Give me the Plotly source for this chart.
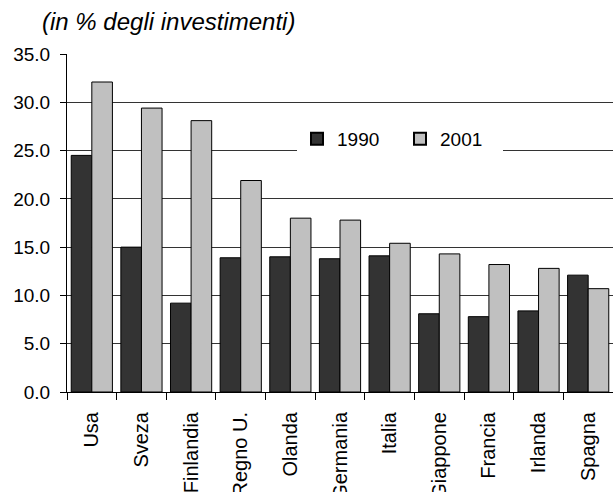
import plotly.graph_objects as go

categories = ["Usa", "Sveza", "Finlandia", "Regno U.", "Olanda", "Germania",
              "Italia", "Giappone", "Francia", "Irlanda", "Spagna"]
values_1990 = [24.5, 15.0, 9.2, 13.9, 14.0, 13.8, 14.1, 8.1, 7.8, 8.4, 12.1]
values_2001 = [32.1, 29.4, 28.1, 21.9, 18.0, 17.8, 15.4, 14.3, 13.2, 12.8, 10.7]
y_ticks = [0, 5, 10, 15, 20, 25, 30, 35]

FONT = "Liberation Sans, Arial, sans-serif"

fig = go.Figure()
fig.add_trace(go.Bar(name="1990", x=categories, y=values_1990,
                     marker=dict(color="#333333", line=dict(color="#000000", width=1))))
fig.add_trace(go.Bar(name="2001", x=categories, y=values_2001,
                     marker=dict(color="#c0c0c0", line=dict(color="#000000", width=1))))

W, H = 613, 492
L, R, T, B = 67, 0, 54, 100
pw, ph = W - L - R, H - T - B

def px_to_paper_x(px):
    return (px - L) / pw

def px_to_paper_y(py):
    return (H - B - py) / ph

fig.update_layout(
    width=W, height=H,
    margin=dict(l=L, r=R, t=T, b=B, pad=0),
    paper_bgcolor="white", plot_bgcolor="white",
    barmode="group", bargap=0.17, bargroupgap=0,
    font=dict(family=FONT, color="#000000", size=19),
    showlegend=True,
    legend=dict(orientation="h", x=px_to_paper_x(297), y=px_to_paper_y(120),
                xanchor="left", yanchor="top", bgcolor="white",
                font=dict(size=19, family=FONT), entrywidth=58,
                itemsizing="constant"),
    annotations=[dict(text="<i>(in % degli investimenti)</i>", xref="paper", yref="paper",
                      x=px_to_paper_x(40), y=px_to_paper_y(22), xanchor="left",
                      yanchor="middle", showarrow=False,
                      font=dict(size=24, family=FONT, color="#000000"))],
)

fig.update_yaxes(range=[0, 35], tickvals=y_ticks, tickformat=".1f",
                 showgrid=True, gridcolor="#333333", gridwidth=1,
                 showline=True, linecolor="#000000", linewidth=1,
                 ticks="outside", ticklen=6, tickcolor="#000000",
                 ticklabelstandoff=6, zeroline=False,
                 tickfont=dict(size=19, family=FONT))
fig.update_xaxes(showline=True, linecolor="#000000", linewidth=1,
                 ticks="outside", ticklen=7, tickcolor="#000000",
                 tickson="boundaries", tickangle=-90, automargin=False,
                 ticklabelstandoff=11,
                 tickfont=dict(size=20, family=FONT))

fig.write_html("out.html")
